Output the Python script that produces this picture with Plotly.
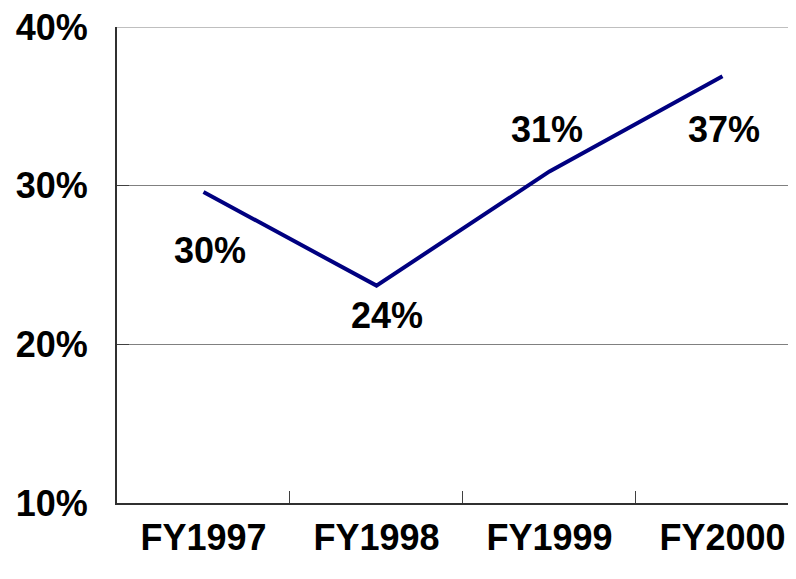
"""Fiscal-year ratio line chart, FY1997-FY2000."""

import plotly.graph_objects as go

years = ["FY1997", "FY1998", "FY1999", "FY2000"]
ratio = [0.296, 0.237, 0.309, 0.369]
y_ticks = [0.10, 0.20, 0.30, 0.40]

# label offsets (px) relative to each point, as placed in the original
label_shift = [(6, -58), (11, -30), (-2, 42), (2, -53)]

font = "Liberation Sans, Arial, sans-serif"

fig = go.Figure()
fig.add_trace(
    go.Scatter(
        x=years, y=ratio, mode="lines",
        line={"color": "#000080", "width": 4},
        hoverinfo="skip",
    )
)

for year, val, (dx, dy) in zip(years, ratio, label_shift):
    fig.add_annotation(
        x=year, y=val, text=f"<b>{val:.0%}</b>", showarrow=False,
        xshift=dx, yshift=dy,
        font={"family": font, "size": 36, "color": "#000000"},
    )

# plotly skips the gridline on the top edge, draw it explicitly
fig.add_hline(y=y_ticks[-1], line={"color": "#808080", "width": 1}, layer="below")

# page body has an 8px margin, so the figure is 8px smaller each way
fig.update_layout(
    width=788, height=571,
    margin={"l": 109, "r": 0, "t": 19, "b": 76},
    paper_bgcolor="white", plot_bgcolor="white",
    showlegend=False,
    font={"family": font, "size": 36, "color": "#000000"},
)
fig.update_xaxes(
    type="category", range=[-0.5, 3.425], automargin=False,
    tickson="boundaries", ticks="inside", ticklen=12, tickwidth=1, tickcolor="#404040",
    showline=True, linecolor="#303030", linewidth=2,
    showgrid=False, ticklabelstandoff=2,
    tickvals=years, ticktext=[f"<b>{y}</b>" for y in years],
)
fig.update_yaxes(
    range=[0.10, 0.40], tickvals=y_ticks, automargin=False,
    ticktext=[f"<b>{v:.0%}</b>" for v in y_ticks],
    ticklabeloverflow="allow",
    ticks="inside", ticklen=12, tickwidth=1, tickcolor="#404040",
    showline=True, linecolor="#303030", linewidth=2,
    showgrid=True, gridcolor="#808080", gridwidth=1,
    zeroline=False, ticklabelstandoff=20,
)

fig.write_html("out.html")
